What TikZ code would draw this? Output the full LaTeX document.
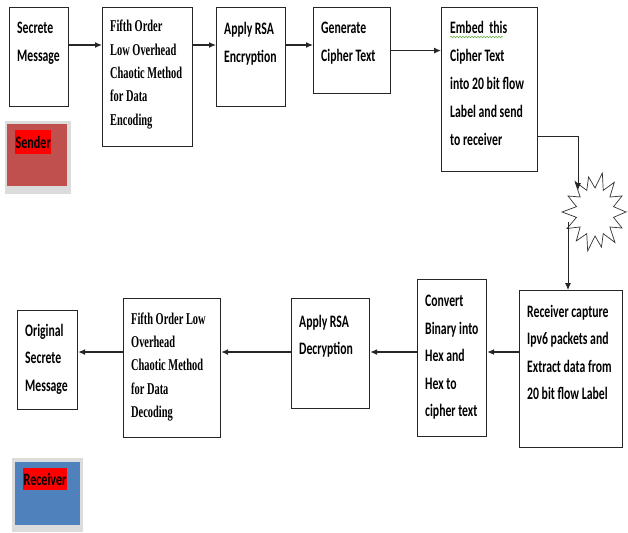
\documentclass[tikz,border=0pt]{standalone}
\usepackage{fontspec}
\newfontfamily\calfont{Carlito}[FakeStretch=0.67]
\newfontfamily\tagfont{Carlito}[FakeStretch=0.69]
\newfontfamily\timesfont{Liberation Serif}[FakeStretch=0.63]
\usetikzlibrary{arrows.meta,decorations.pathmorphing}
\definecolor{senderred}{HTML}{C0504D}
\definecolor{receiverblue}{HTML}{4F81BD}
\definecolor{framegray}{HTML}{DCDCDC}
\definecolor{squiggle}{HTML}{5FAF3F}

\begin{document}
\begin{tikzpicture}[x=1pt,y=-1pt,
  box/.style={draw=black!85, line width=1.2pt, inner sep=0pt, anchor=north west},
  sans/.style={anchor=north west, inner sep=0pt, align=left,
    font=\calfont\bfseries\fontsize{17.5}{27.5}\selectfont},
  sanstop/.style={sans, font=\calfont\bfseries\fontsize{17.5}{28}\selectfont},
  serif/.style={anchor=north west, inner sep=0pt, align=left,
    font=\timesfont\bfseries\fontsize{16.5}{23.3}\selectfont},
  arr/.style={draw=black!85, line width=1.2pt, -{Latex[length=7pt,width=6pt]}},
  thinarr/.style={arr, line width=0.9pt},
  tag/.style={anchor=north west, fill=red, inner xsep=0.5pt, inner ysep=0pt,
    font=\tagfont\bfseries\fontsize{17.5}{17.5}\selectfont}
]
\useasboundingbox[fill=white] (0,0) rectangle (628,532);

% ---- sender side, top row ----
\node[box, minimum width=59pt, minimum height=99pt]  (secrete)  at (9,7) {};
\node[box, minimum width=90pt, minimum height=139pt] (fifthenc) at (102,7) {};
\node[box, minimum width=69pt, minimum height=99pt]  (rsaenc)   at (216,7) {};
\node[box, minimum width=77pt, minimum height=86pt]  (cipher)   at (313,7) {};
\node[box, minimum width=96pt, minimum height=164pt] (embed)    at (441,7) {};

\node[sanstop] (secretetxt)  at ([shift={(8,15)}]secrete.north west)  {Secrete\\Message};
\node[serif]   (fifthenctxt) at ([shift={(8,13)}]fifthenc.north west) {Fifth Order\\Low Overhead\\Chaotic Method\\for Data\\Encoding};
\node[sanstop] (rsaenctxt)   at ([shift={(8,15)}]rsaenc.north west)   {Apply RSA\\Encryption};
\node[sanstop] (ciphertxt)   at ([shift={(8,15)}]cipher.north west)   {Generate\\Cipher Text};
\node[sanstop] (embedtxt)    at ([shift={(9,14)}]embed.north west)    {Embed\ \ this\\Cipher Text\\into 20 bit flow\\Label and send\\to receiver};
\draw[squiggle, line width=0.5pt, decorate,
  decoration={snake, amplitude=0.8pt, segment length=3pt}]
  ([shift={(9,30)}]embed.north west) -- ([shift={(62,30)}]embed.north west);

% ---- receiver side, bottom row ----
\node[box, minimum width=103pt, minimum height=157pt] (capture)  at (519,290) {};
\node[box, minimum width=69pt,  minimum height=157pt] (convert)  at (417,279) {};
\node[box, minimum width=78pt,  minimum height=110pt] (rsadec)   at (291,298) {};
\node[box, minimum width=97pt,  minimum height=139pt] (fifthdec) at (123,298) {};
\node[box, minimum width=60pt,  minimum height=99pt]  (original) at (17,310) {};

\node[sans]  (capturetxt)  at ([shift={(8,15)}]capture.north west)  {Receiver capture\\Ipv6 packets and\\Extract data from\\20 bit flow Label};
\node[sans]  (converttxt)  at ([shift={(8,16)}]convert.north west)  {Convert\\Binary into\\Hex and\\Hex to\\cipher text};
\node[sans]  (rsadectxt)   at ([shift={(8,17)}]rsadec.north west)   {Apply RSA\\Decryption};
\node[serif] (fifthdectxt) at ([shift={(8,14.5)}]fifthdec.north west) {Fifth Order Low\\Overhead\\Chaotic Method\\for Data\\Decoding};
\node[sans]  (originaltxt) at ([shift={(8,14)}]original.north west) {Original\\Secrete\\Message};

% ---- role badges ----
\fill[framegray] (5,121) rectangle (71,194);
\fill[senderred] (7,124) rectangle (67,186);
\node[tag, minimum height=24pt] (sendertag) at (15,130) {Sender};

\fill[framegray] (12,458) rectangle (83,532);
\fill[receiverblue] (15,462) rectangle (80,525);
\node[tag, minimum height=22pt] (receivertag) at (23,468) {Receiver};

% ---- transmission burst: 14 spikes with slightly uneven reach ----
\coordinate (burstc) at (595,212);
\draw[black!80, line width=0.7pt, fill=white]
  ([shift={(burstc)}]0:31 and 38)
  \foreach \k/\ro/\ry in {0/30/37,1/32/39,2/29/36,3/33/40,4/30/37,5/31/38,6/33/40,
                          7/30/37,8/32/39,9/29/36,10/33/40,11/31/38,12/30/37,13/31/38} {
    -- ([shift={(burstc)}]{\k*360/14+360/28}:19 and 24)
    -- ([shift={(burstc)}]{\k*360/14+360/14}:{\ro} and {\ry})
  } -- cycle;

% ---- connectors ----
\coordinate (toprow) at (0,45);
\coordinate (botrow) at (0,352);
\coordinate (sendrow) at (0,136);
\coordinate (burstin) at (578,190);
\coordinate (burstout) at (568,222);

\draw[arr] (secrete.east |- toprow) -- (fifthenc.west |- toprow);
\draw[arr] (fifthenc.east |- toprow) -- (rsaenc.west |- toprow);
\draw[arr] (rsaenc.east |- toprow) -- (cipher.west |- toprow);
\draw[arr] (cipher.east) -- (embed.west |- cipher.east);
\draw[thinarr] (embed.east |- sendrow) -| (burstin);
\draw[thinarr] (burstout) -- (capture.north -| burstout);

\draw[arr] (capture.west |- botrow) -- (convert.east |- botrow);
\draw[arr] (convert.west |- botrow) -- (rsadec.east |- botrow);
\draw[arr] (rsadec.west |- botrow) -- (fifthdec.east |- botrow);
\draw[arr] (fifthdec.west |- botrow) -- (original.east |- botrow);
\end{tikzpicture}
\end{document}
